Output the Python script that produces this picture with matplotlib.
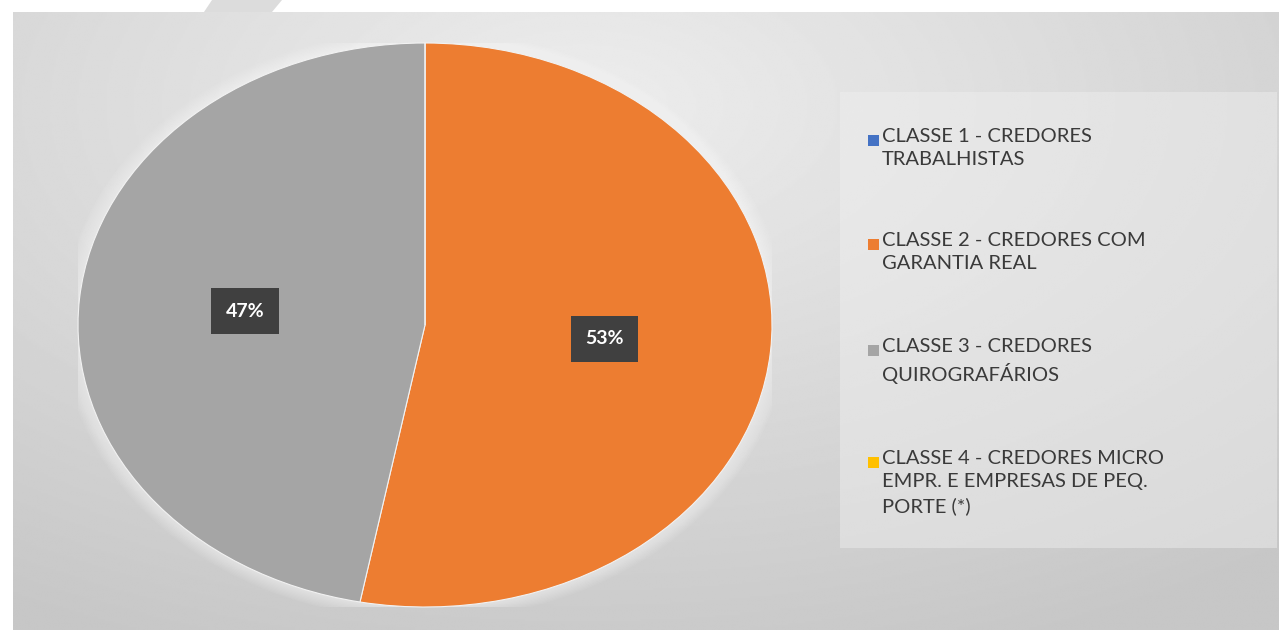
import numpy as np
import matplotlib
matplotlib.use("Agg")
import matplotlib.pyplot as plt
import matplotlib.patches as patches

# dados do grafico
classes = ["CLASSE 1 - CREDORES\nTRABALHISTAS",
           "CLASSE 2 - CREDORES COM\nGARANTIA REAL",
           "CLASSE 3 - CREDORES\nQUIROGRAFÁRIOS",
           "CLASSE 4 - CREDORES MICRO\nEMPR. E EMPRESAS DE PEQ.\nPORTE (*)"]
valores = [0, 53, 47, 0]
cores = ["#4472C4", "#ED7D31", "#A5A5A5", "#FFC000"]

plt.rcParams['font.family'] = ['Lato', 'DejaVu Sans']

W, H = 1279, 630
fig = plt.figure(figsize=(W / 100, H / 100), dpi=100)
fig.patch.set_facecolor("white")

# fundo com degrade (estilo Excel)
bg = fig.add_axes([13 / W, 0, 1 - 13 / W, 618 / H])
yy, xx = np.mgrid[0:1:300j, 0:1:600j]
dist = np.sqrt(((xx - 0.45) * 1.0) ** 2 + ((yy - 0.15) * 0.9) ** 2)
grad = 0.93 - 0.15 * np.clip(dist / 0.85, 0, 1)
bg.imshow(grad, cmap="gray", vmin=0, vmax=1, aspect="auto", extent=(0, 1, 0, 1),
          origin="upper", interpolation="bilinear")
bg.set_xlim(0, 1)
bg.set_ylim(0, 1)
bg.axis("off")

# marca d'agua diagonal no topo
fig.patches.append(patches.Polygon([(212 / W, 1), (282 / W, 1), (272 / W, 1 - 12 / H), (204 / W, 1 - 12 / H)],
                                   closed=True, transform=fig.transFigure, facecolor="#dcdcdc",
                                   edgecolor="none", zorder=5))

# caixa da legenda
fig.patches.append(patches.Rectangle((840 / W, 1 - 548 / H), 437 / W, 456 / H,
                                     transform=fig.transFigure, facecolor="#f0f0f0",
                                     edgecolor="none", alpha=0.45, zorder=1))

# pizza (elipse, como no original esticado)
ax = fig.add_axes([78 / W, 1 - 607 / H, 694 / W, 564 / H])
ax.patch.set_alpha(0)

# brilho suave em volta da pizza
for k in np.linspace(1.045, 1.005, 10):
    ax.add_patch(patches.Ellipse((0, 0), 2 * k, 2 * k, facecolor="white", edgecolor="none",
                                 alpha=0.06, zorder=0))


def fmt(p):
    return "%d%%" % round(p) if p > 0.5 else ""


wedges, _, autotexts = ax.pie(valores, colors=cores, startangle=90, counterclock=False,
                              autopct=fmt, pctdistance=0.52,
                              wedgeprops=dict(edgecolor="#f2f2f2", linewidth=0.8),
                              textprops=dict(color="white", fontsize=14, fontweight="bold"))
for t in autotexts:
    if t.get_text():
        t.set_bbox(dict(boxstyle="square,pad=0.75", facecolor="#404040", edgecolor="none"))
ax.set_aspect("auto")
ax.set_xlim(-1, 1)
ax.set_ylim(-1, 1)
ax.axis("off")

# legenda manual (marcador alinhado com a primeira linha)
y_topo = [128, 232, 338, 450]
for lab, cor, y in zip(classes, cores, y_topo):
    fig.patches.append(patches.Rectangle((868 / W, 1 - (y + 18) / H), 11 / W, 11 / H,
                                         transform=fig.transFigure, facecolor=cor,
                                         edgecolor="none", zorder=6))
    fig.text(882 / W, 1 - y / H, lab, ha="left", va="top", fontsize=14.5,
             color="#3a3a3a", linespacing=1.45, zorder=6)

fig.savefig("out.png", dpi=100)
